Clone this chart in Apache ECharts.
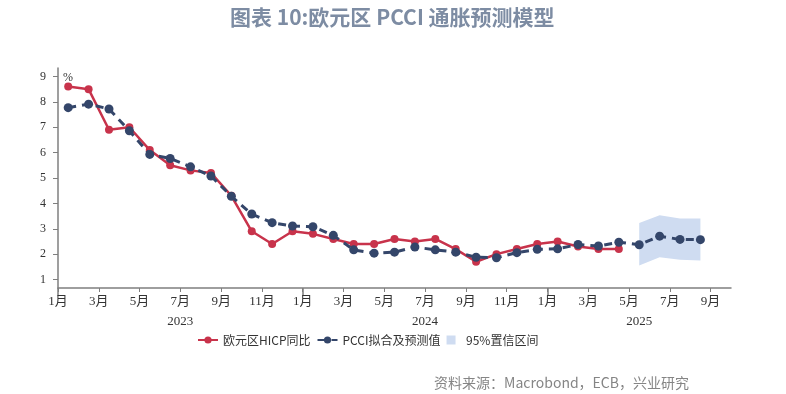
<!DOCTYPE html>
<html>
<head>
<meta charset="utf-8">
<script src="https://cdn.jsdelivr.net/npm/echarts@6/dist/echarts.min.js"></script>
<style>
html,body{margin:0;padding:0;background:#fff;}
#chart{width:786px;height:394px;}
</style>
</head>
<body>
<div id="chart"></div>
<script>
// Months from Jan 2023 (one value per month)
const months = ['2023-01','2023-02','2023-03','2023-04','2023-05','2023-06','2023-07','2023-08','2023-09','2023-10','2023-11','2023-12',
  '2024-01','2024-02','2024-03','2024-04','2024-05','2024-06','2024-07','2024-08','2024-09','2024-10','2024-11','2024-12',
  '2025-01','2025-02','2025-03','2025-04','2025-05','2025-06','2025-07','2025-08'];
// Euro area HICP y/y (%)
const hicp = [8.6,8.5,6.9,7.0,6.1,5.5,5.3,5.2,4.3,2.9,2.4,2.9,
  2.8,2.6,2.4,2.4,2.6,2.5,2.6,2.2,1.7,2.0,2.2,2.4,
  2.5,2.3,2.2,2.2];
// PCCI fitted & forecast (%)
const pcci = [7.77,7.91,7.72,6.86,5.93,5.77,5.44,5.08,4.28,3.58,3.24,3.11,
  3.08,2.74,2.17,2.04,2.08,2.28,2.17,2.08,1.88,1.86,2.06,2.19,
  2.21,2.38,2.32,2.47,2.37,2.71,2.58,2.57];
// 95% confidence interval (forecast months)
const ciMonths = ['2025-05','2025-06','2025-07','2025-08'];
const ciLower = [1.55,1.88,1.78,1.75];
const ciUpper = [3.23,3.53,3.40,3.40];
// Tick labels
const monthNames = ['1月','2月','3月','4月','5月','6月','7月','8月','9月','10月','11月','12月'];
const yearLabels = ['2023','2024','2025'];
const yTicks = [1,2,3,4,5,6,7,8,9];

const startYear = 2023;
const axisMonths = 33; // axis runs Jan 2023 .. start of Oct 2025
function mIndex(s){ const [y,m] = s.split('-').map(Number); return (y-startYear)*12 + (m-1); }
const xMid = s => mIndex(s) + 0.5;

const hicpData = hicp.map((v,i)=>[xMid(months[i]), v]);
const pcciData = pcci.map((v,i)=>[xMid(months[i]), v]);
const ciData = ciMonths.map((m,i)=>[xMid(m), ciLower[i], ciUpper[i]]);

const yearStarts = yearLabels.map((y,i)=> i*12);
const yearCenters = yearLabels.map((y,i)=> (i*12 + Math.min((i+1)*12, axisMonths))/2);

const RED = '#c8334b';
const BLUE = '#34466a';
const BAND = '#cfdcf1';
const AXIS = '#7f7f7f';
const serif = '"Liberation Serif","Times New Roman","Noto Sans CJK SC",serif';
const cjk = '"Noto Sans CJK SC","Noto Sans",sans-serif';

function renderBand(params, api){
  if (params.dataIndex !== 0) return null;
  const upper = ciData.map(d => api.coord([d[0], d[2]]));
  const lower = ciData.map(d => api.coord([d[0], d[1]])).reverse();
  return {
    type:'polygon',
    shape:{points: upper.concat(lower)},
    style:{fill:BAND, stroke:null},
    silent:true
  };
}

const chart = echarts.init(document.getElementById('chart'), null, {renderer:'canvas'});
chart.setOption({
  animation:false,
  backgroundColor:'#fff',
  title:[{
    text:'图表 10:欧元区 PCCI 通胀预测模型',
    left:225, top:2,
    textStyle:{fontFamily:cjk, fontSize:21, fontWeight:'bold', color:'#7d8ca3'}
  },{
    text:'资料来源：Macrobond，ECB，兴业研究',
    right:92, top:371,
    textStyle:{fontFamily:cjk, fontSize:14, fontWeight:'normal', color:'#858585'}
  }],
  legend:{
    left:192, top:329,
    itemWidth:20, itemHeight:9, itemGap:6,
    textStyle:{fontFamily:cjk, fontSize:12, color:'#333'},
    data:[
      {name:'欧元区HICP同比'},
      {name:'PCCI拟合及预测值'},
      {name:'95%置信区间', icon:'path://M0,0h10v10h-10z', itemStyle:{color:BAND}}
    ]
  },
  grid:{left:58, right:55, top:68, bottom:106},
  xAxis:[{
    type:'value', min:0, max:axisMonths, interval:2, position:'bottom',
    axisLine:{show:true, lineStyle:{color:AXIS, width:1.5}},
    axisTick:{show:true, length:4, lineStyle:{color:AXIS}},
    splitLine:{show:false},
    axisLabel:{margin:7, fontFamily:serif, fontSize:13, color:'#333',
      formatter:v=>monthNames[Math.round(v)%12]}
  },{
    type:'value', min:0, max:axisMonths, position:'bottom', offset:0,
    axisLine:{show:false},
    axisTick:{show:true, length:8, customValues:yearStarts, lineStyle:{color:AXIS, width:1.5}},
    splitLine:{show:false},
    axisLabel:{margin:27, fontFamily:serif, fontSize:13, color:'#333',
      customValues:yearCenters,
      formatter:v=>{ const i = yearCenters.findIndex(c=>Math.abs(c-v)<1e-6); return i>=0?yearLabels[i]:''; }}
  }],
  yAxis:{
    type:'value', min:0.667, max:9.333,
    name:'%', nameLocation:'end', nameGap:-10,
    nameTextStyle:{fontFamily:serif, fontSize:12, color:'#333', align:'left', verticalAlign:'middle', padding:[0,0,0,5]},
    axisLine:{show:true, lineStyle:{color:AXIS, width:1.5}},
    axisTick:{show:true, length:5, customValues:yTicks, lineStyle:{color:AXIS}},
    splitLine:{show:false},
    axisLabel:{margin:12, fontFamily:serif, fontSize:12, color:'#333', customValues:yTicks}
  },
  series:[{
    name:'95%置信区间', type:'custom', data:ciData, xAxisIndex:0,
    encode:{x:0, y:[1,2]},
    renderItem:renderBand, itemStyle:{color:BAND}, z:1, silent:true
  },{
    name:'欧元区HICP同比', type:'line', data:hicpData, xAxisIndex:0,
    symbol:'circle', symbolSize:8, color:RED,
    lineStyle:{color:RED, width:2.5}, itemStyle:{color:RED}, z:3
  },{
    name:'PCCI拟合及预测值', type:'line', data:pcciData, xAxisIndex:0,
    symbol:'circle', symbolSize:9, color:BLUE,
    lineStyle:{color:BLUE, width:3, type:[8,6]}, itemStyle:{color:BLUE}, z:4
  }]
});
</script>
</body>
</html>
